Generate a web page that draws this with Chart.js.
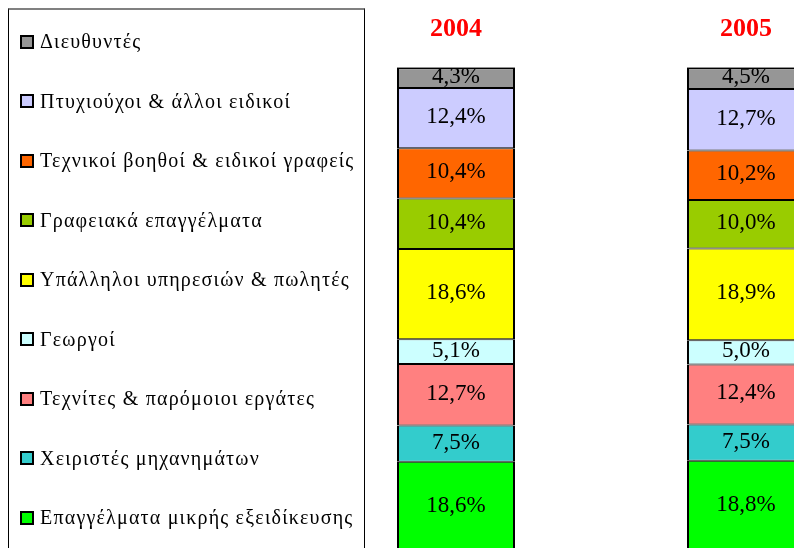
<!DOCTYPE html>
<html lang="el">
<head>
    <meta charset="UTF-8">
    <title>Απασχολούμενοι κατά επάγγελμα 2004 - 2005</title>
    <script src="https://cdn.jsdelivr.net/npm/chart.js"></script>
    <style>
        html, body { margin: 0; padding: 0; background: #fff; overflow: hidden; }
        body { width: 794px; height: 548px; position: relative; font-family: "Liberation Serif", "DejaVu Serif", serif; }
        #chart { position: absolute; left: 0; top: -8px; }
        #legend {
            position: absolute;
            left: 8px;
            top: 8px;
            width: 357px;
            height: 600px;
            border-left: 1px solid #000;
            border-right: 1px solid #000;
            border-top: 2px solid #808080;
            padding-top: 2px;
            box-sizing: border-box;
        }
        .item {
            height: 59.5px;
            display: flex;
            align-items: center;
            font-size: 20px;
            letter-spacing: 1.2px;
            color: #000;
            white-space: nowrap;
        }
        .box {
            width: 14px;
            height: 14px;
            margin-left: 11px;
            margin-right: 6px;
            border: 2px solid #000;
            box-sizing: border-box;
            flex: none;
        }
    </style>
</head>
<body>
    <canvas id="chart" width="900" height="560"></canvas>
    <div id="legend"></div>

    <script>
// στοιχεία (από κάτω προς τα πάνω στη στήλη)
const years = ['2004', '2005'];
const groups = [
    'Επαγγέλματα μικρής εξειδίκευσης',
    'Χειριστές μηχανημάτων',
    'Τεχνίτες & παρόμοιοι εργάτες',
    'Γεωργοί',
    'Υπάλληλοι υπηρεσιών & πωλητές',
    'Γραφειακά επαγγέλματα',
    'Τεχνικοί βοηθοί & ειδικοί γραφείς',
    'Πτυχιούχοι & άλλοι ειδικοί',
    'Διευθυντές'
];
const values2004 = [18.6, 7.5, 12.7, 5.1, 18.6, 10.4, 10.4, 12.4, 4.3];
const values2005 = [18.8, 7.5, 12.4, 5.0, 18.9, 10.0, 10.2, 12.7, 4.5];
const colors = ['#00FF00', '#33CCCC', '#FF8080', '#CCFFFF', '#FFFF00', '#99CC00', '#FF6600', '#CCCCFF', '#969696'];

const datasets = groups.map(function(name, i) {
    return {
        label: name,
        data: [values2004[i], values2005[i]],
        backgroundColor: colors[i],
        borderColor: '#000',
        borderWidth: { top: i === groups.length - 1 ? 2 : 1, bottom: 1, left: 2, right: 2 },
        borderSkipped: false
    };
});

// ετικέτες ποσοστών μέσα στις στήλες
const valueLabels = {
    id: 'valueLabels',
    afterDatasetsDraw(chart) {
        const ctx = chart.ctx;
        ctx.save();
        ctx.font = '23px "Liberation Serif", serif';
        ctx.fillStyle = '#000';
        ctx.textAlign = 'center';
        ctx.textBaseline = 'middle';
        chart.data.datasets.forEach(function(ds, i) {
            chart.getDatasetMeta(i).data.forEach(function(bar, j) {
                const txt = ds.data[j].toFixed(1).replace('.', ',') + '%';
                ctx.fillText(txt, bar.x, (bar.y + bar.base) / 2 - 1);
            });
        });
        ctx.restore();
    }
};

new Chart(document.getElementById('chart'), {
    type: 'bar',
    data: { labels: years, datasets: datasets },
    options: {
        responsive: false,
        animation: false,
        devicePixelRatio: 1,
        layout: { padding: { left: 311, right: 9, top: 0, bottom: 0 } },
        plugins: { legend: { display: false }, tooltip: { enabled: false } },
        datasets: { bar: { barPercentage: 0.407, categoryPercentage: 1 } },
        scales: {
            x: {
                stacked: true,
                position: 'top',
                grid: { display: false, drawTicks: false },
                border: { display: false },
                ticks: {
                    color: '#FF0000',
                    padding: 22,
                    font: { family: '"Liberation Serif", serif', size: 26, weight: 'bold' }
                }
            },
            y: { stacked: true, min: 0, max: 100, display: false }
        }
    },
    plugins: [valueLabels]
});

// υπόμνημα (από πάνω προς τα κάτω)
const legend = document.getElementById('legend');
groups.slice().reverse().forEach(function(name, k) {
    const i = groups.length - 1 - k;
    const row = document.createElement('div');
    row.className = 'item';
    const box = document.createElement('span');
    box.className = 'box';
    box.style.background = colors[i];
    row.appendChild(box);
    row.appendChild(document.createTextNode(name));
    legend.appendChild(row);
});
    </script>
</body>
</html>
